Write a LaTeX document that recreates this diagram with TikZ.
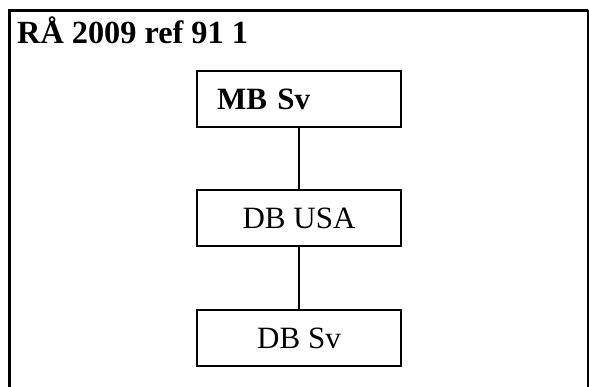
\documentclass[tikz,border=0pt]{standalone}
\usepackage{fontspec}
\setmainfont{Liberation Serif}
\begin{document}
\begin{tikzpicture}[x=1pt,y=-1pt,
  box/.style={draw,line width=1.6pt,minimum width=204pt,minimum height=56pt,
    inner sep=0pt,font=\fontsize{31}{37}\selectfont},
  link/.style={draw,line width=1.4pt}]
\useasboundingbox (0,0) rectangle (589,387);
% outer frame, open at the bottom
\draw[line width=3.2pt] (9.5,387) -- (9.5,10.5) -- (588,10.5);
\draw[line width=1.6pt] (588,10.5) -- (588,387);
\node[anchor=base west,inner sep=0pt,font=\fontsize{32.3}{38}\selectfont\bfseries]
  (title) at (17,44) {RÅ 2009 ref 91 1};
\node[box,text width=164pt,align=left,inner xsep=20pt] (mb) at (299,99) {\bfseries MB Sv};
\node[box] (dbusa) at (299,218) {DB USA};
\node[box] (dbsv) at (299,338) {DB Sv};
\draw[link] (mb) -- (dbusa);
\draw[link] (dbusa) -- (dbsv);
\end{tikzpicture}
\end{document}
